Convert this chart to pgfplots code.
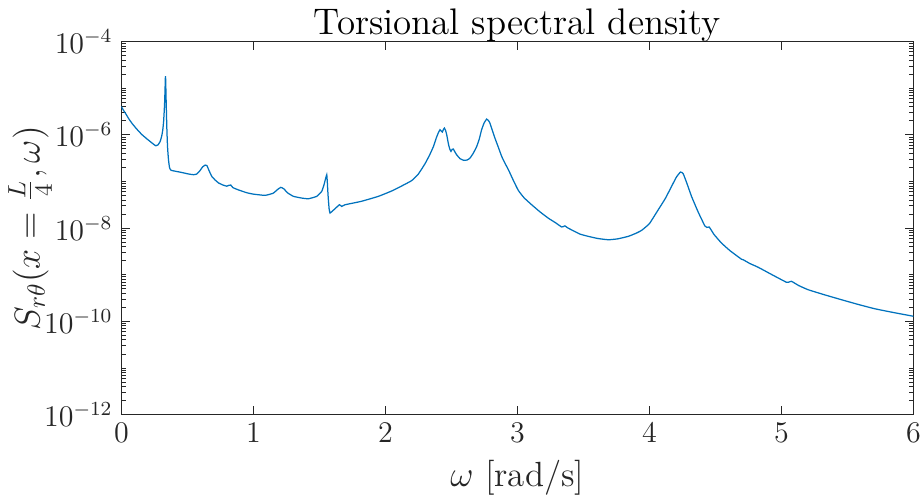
\documentclass[border=0pt]{standalone}
\usepackage{pgfplots}
\pgfplotsset{compat=1.18}
\definecolor{mblue}{rgb}{0,0.447,0.741}
\definecolor{axgray}{rgb}{0.15,0.15,0.15}
\pgfplotstableread{
x y
0 4.07e-6
0.015 3.4e-6
0.03 2.95e-6
0.055 2.25e-6
0.08 1.78e-6
0.115 1.35e-6
0.155 1.02e-6
0.2 7.94e-7
0.244 6.31e-7
0.261 5.85e-7
0.278 6.1e-7
0.294 7.24e-7
0.306 9.5e-7
0.314 1.29e-6
0.320 1.9e-6
0.324 2.95e-6
0.328 5.0e-6
0.331 9.5e-6
0.334 1.82e-5
0.336 1.5e-5
0.338 8.0e-6
0.341 3.5e-6
0.345 1.3e-6
0.350 5.5e-7
0.357 2.95e-7
0.365 2.0e-7
0.377 1.74e-7
0.45 1.58e-7
0.509 1.45e-7
0.547 1.40e-7
0.572 1.45e-7
0.595 1.7e-7
0.615 2.05e-7
0.635 2.25e-7
0.648 2.2e-7
0.665 1.7e-7
0.685 1.29e-7
0.71 1.08e-7
0.736 9.33e-8
0.770 8.4e-8
0.799 7.94e-8
0.815 8.3e-8
0.829 8.4e-8
0.845 7.41e-8
0.887 6.61e-8
0.95 5.75e-8
1.0 5.37e-8
1.089 5.05e-8
1.15 5.62e-8
1.185 6.8e-8
1.208 7.50e-8
1.23 7.0e-8
1.26 5.7e-8
1.304 4.81e-8
1.366 4.42e-8
1.417 4.27e-8
1.48 4.81e-8
1.518 6.17e-8
1.535 8.5e-8
1.547 1.15e-7
1.556 1.40e-7
1.560 1.0e-7
1.566 5.0e-8
1.574 2.6e-8
1.581 2.11e-8
1.600 2.35e-8
1.619 2.61e-8
1.652 3.18e-8
1.669 2.93e-8
1.695 3.18e-8
1.816 3.75e-8
1.947 4.81e-8
2.05 6.31e-8
2.13 8.2e-8
2.2 1.05e-7
2.25 1.45e-7
2.3 2.40e-7
2.335 3.7e-7
2.364 5.62e-7
2.385 8.5e-7
2.40 1.09e-6
2.414 1.29e-6
2.424 1.2e-6
2.432 1.15e-6
2.440 1.32e-6
2.447 1.40e-6
2.456 1.25e-6
2.465 1.00e-6
2.475 7.0e-7
2.482 5.66e-7
2.490 4.8e-7
2.497 4.43e-7
2.506 4.9e-7
2.515 4.97e-7
2.527 4.3e-7
2.54 3.75e-7
2.565 3.1e-7
2.595 2.84e-7
2.62 2.9e-7
2.641 3.18e-7
2.665 4.0e-7
2.692 5.66e-7
2.712 8.3e-7
2.729 1.29e-6
2.748 1.8e-6
2.767 2.18e-6
2.780 2.05e-6
2.792 1.79e-6
2.81 1.25e-6
2.83 8.53e-7
2.855 5.5e-7
2.881 3.46e-7
2.905 2.5e-7
2.932 1.79e-7
2.97 1.05e-7
3.007 6.46e-8
3.05 4.5e-8
3.108 3.18e-8
3.17 2.25e-8
3.234 1.64e-8
3.29 1.3e-8
3.335 1.06e-8
3.348 1.08e-8
3.36 1.12e-8
3.38 1.02e-8
3.42 8.9e-9
3.474 7.46e-9
3.537 6.67e-9
3.61 6.0e-9
3.689 5.64e-9
3.76 5.9e-9
3.84 6.67e-9
3.90 7.8e-9
3.941 8.97e-9
4.00 1.25e-8
4.067 2.48e-8
4.12 4.3e-8
4.168 7.87e-8
4.205 1.25e-7
4.236 1.60e-7
4.256 1.47e-7
4.285 9.0e-8
4.319 4.81e-8
4.37 2.2e-8
4.42 1.12e-8
4.435 1.04e-8
4.453 1.06e-8
4.49 7.3e-9
4.546 4.80e-9
4.61 3.3e-9
4.685 2.29e-9
4.698 2.15e-9
4.711 2.10e-9
4.76 1.75e-9
4.824 1.45e-9
4.93 1.0e-9
5.039 6.89e-10
5.055 6.95e-10
5.077 7.23e-10
5.13 5.9e-10
5.203 4.78e-10
5.33 3.7e-10
5.455 2.92e-10
5.58 2.32e-10
5.707 1.87e-10
5.85 1.55e-10
6.0 1.29e-10
}\datatable
\begin{document}
\begin{tikzpicture}
\begin{axis}[
  scale only axis,
  width=317pt, height=149.3pt,
  xmin=0, xmax=6, ymin=1e-12, ymax=1e-4,
  ymode=log,
  xtick={0,1,2,3,4,5,6},
  ytick={1e-12,1e-10,1e-8,1e-6,1e-4},
  minor ytick={2e-12,3e-12,4e-12,5e-12,6e-12,7e-12,8e-12,9e-12,1e-11,
               2e-11,3e-11,4e-11,5e-11,6e-11,7e-11,8e-11,9e-11,
               2e-10,3e-10,4e-10,5e-10,6e-10,7e-10,8e-10,9e-10,1e-9,
               2e-9,3e-9,4e-9,5e-9,6e-9,7e-9,8e-9,9e-9,
               2e-8,3e-8,4e-8,5e-8,6e-8,7e-8,8e-8,9e-8,1e-7,
               2e-7,3e-7,4e-7,5e-7,6e-7,7e-7,8e-7,9e-7,
               2e-6,3e-6,4e-6,5e-6,6e-6,7e-6,8e-6,9e-6,1e-5,
               2e-5,3e-5,4e-5,5e-5,6e-5,7e-5,8e-5,9e-5},
  tick align=inside,
  major tick length=3.5pt,
  minor tick length=1.8pt,
  axis line style={axgray, line width=0.4pt},
  every tick/.style={axgray, line width=0.4pt},
  tick label style={font=\fontsize{11.5}{13}\selectfont, text=axgray},
  xticklabel style={inner xsep=0.5pt},
  title={Torsional spectral density},
  title style={font=\fontsize{14.8}{17}\selectfont, text=black, yshift=-9.5pt},
  xlabel={$\omega$ [rad/s]},
  ylabel={$S_{r\theta}(x=\frac{L}{4},\omega)$},
  label style={font=\fontsize{14}{16}\selectfont, text=axgray},
  xlabel style={yshift=0pt},
  ylabel style={yshift=-10pt},
]
\addplot[mblue, line width=0.5pt, smooth, tension=0.25] table[x=x, y=y] {\datatable};
\end{axis}
\end{tikzpicture}
\end{document}
